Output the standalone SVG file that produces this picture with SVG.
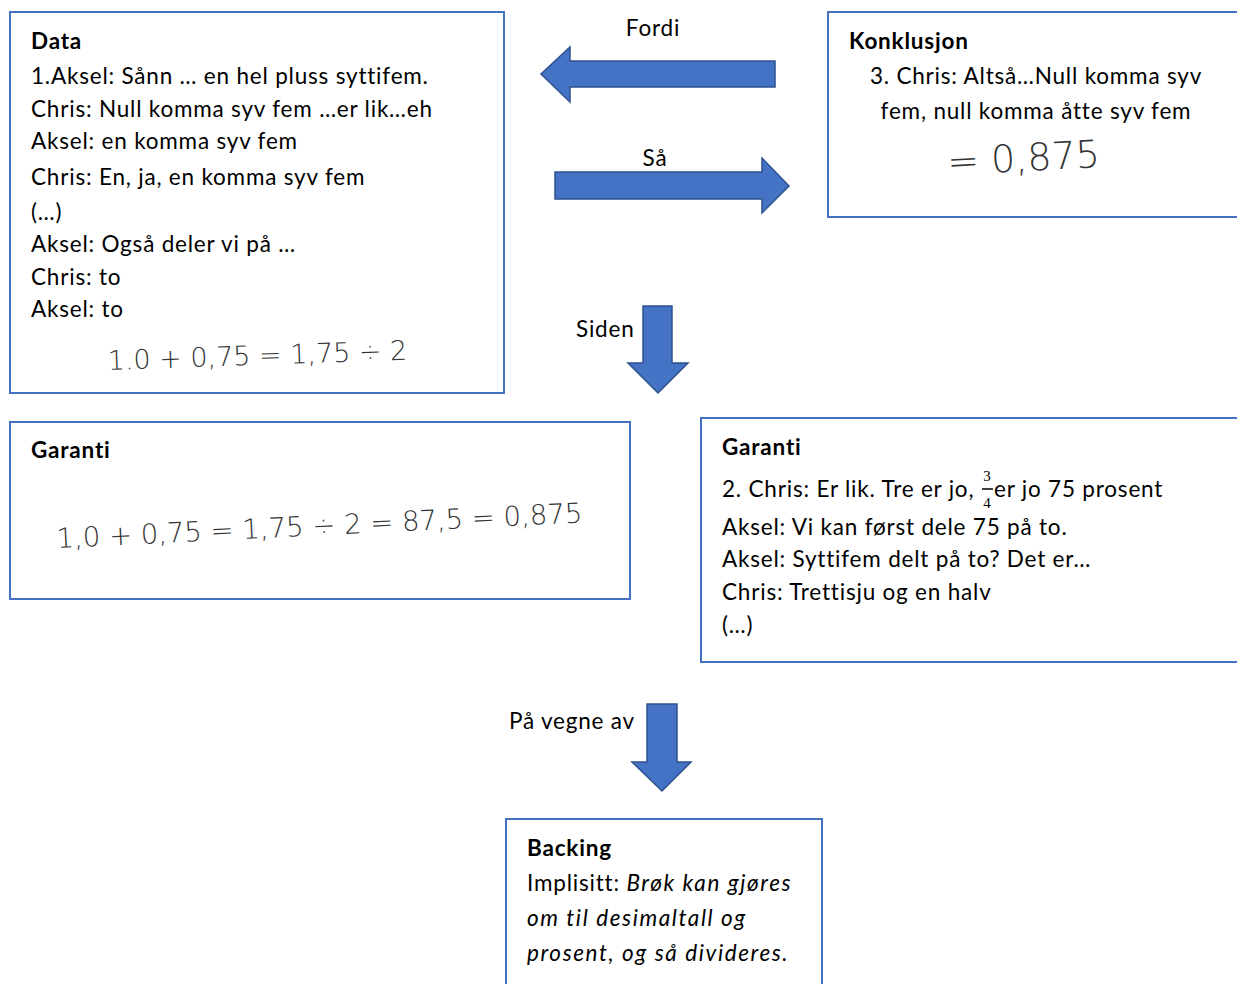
<svg xmlns="http://www.w3.org/2000/svg" width="1237" height="984" viewBox="0 0 1237 984">
  <style>
    .box { fill: #ffffff; stroke: #4472C4; stroke-width: 2; }
    .arrow { fill: #4472C4; stroke: #2F528F; stroke-width: 1.5; stroke-linejoin: miter; }
    .t { font-family: Lato, "Liberation Sans", sans-serif; font-size: 22.5px; letter-spacing: 0.8px; fill: #000; }
    .b { font-weight: bold; }
    .i { font-style: italic; letter-spacing: 1.6px; }
    .hw { font-family: "DejaVu Sans", "Liberation Sans", sans-serif; font-weight: 200; fill: #333; }
    .frac { font-family: "Liberation Serif", serif; font-size: 15px; fill: #000; }
  </style>
  <rect width="1237" height="984" fill="#ffffff"/>

  <!-- connectors: block arrows with their labels -->
  <g id="connectors">
    <g id="fordi">
      <polygon class="arrow" points="775,61 570,61 570,47 541,74 570,102 570,87 775,87"/>
      <text class="t" x="653" y="36" text-anchor="middle">Fordi</text>
    </g>
    <g id="saa">
      <polygon class="arrow" points="555,172 762,172 762,158 789,186 762,213 762,199 555,199"/>
      <text class="t" x="655" y="166" text-anchor="middle">Så</text>
    </g>
    <g id="siden">
      <polygon class="arrow" points="643,306 672,306 672,363 688,363 658,393 628,363 643,363"/>
      <text class="t" x="576" y="337">Siden</text>
    </g>
    <g id="paa-vegne-av">
      <polygon class="arrow" points="647,704 677,704 677,762 691,762 662,791 632,762 647,762"/>
      <text class="t" x="509" y="729">På vegne av</text>
    </g>
  </g>

  <!-- Data -->
  <g id="data">
    <rect class="box" x="10" y="12" width="494" height="381"/>
    <text class="t b" x="31" y="49">Data</text>
    <text class="t" x="31" y="84">1.Aksel: Sånn … en hel pluss syttifem.</text>
    <text class="t" x="31" y="117">Chris: Null komma syv fem …er lik…eh</text>
    <text class="t" x="31" y="149">Aksel: en komma syv fem</text>
    <text class="t" x="31" y="185">Chris: En, ja, en komma syv fem</text>
    <text class="t" x="31" y="220">(…)</text>
    <text class="t" x="31" y="252">Aksel: Også deler vi på …</text>
    <text class="t" x="31" y="285">Chris: to</text>
    <text class="t" x="31" y="317">Aksel: to</text>
    <text class="hw" x="108" y="370" font-size="27" transform="rotate(-2 108 370)">1.0 + 0,75 = 1,75  ÷ 2</text>
  </g>

  <!-- Konklusjon -->
  <g id="konklusjon">
    <rect class="box" x="828" y="12" width="420" height="205"/>
    <text class="t b" x="849" y="49">Konklusjon</text>
    <text class="t" x="1036" y="84" text-anchor="middle">3. Chris: Altså…Null komma syv</text>
    <text class="t" x="1036" y="119" text-anchor="middle">fem, null komma åtte syv fem</text>
    <text class="hw" x="948" y="175" font-size="38" transform="rotate(-3 948 175)">= 0,875</text>
  </g>

  <!-- Garanti (left) -->
  <g id="garanti-venstre">
    <rect class="box" x="10" y="422" width="620" height="177"/>
    <text class="t b" x="31" y="458">Garanti</text>
    <text class="hw" x="57" y="548" font-size="27.5" transform="rotate(-2.8 57 548)">1,0 + 0,75 = 1,75  ÷ 2  = 87,5 = 0,875</text>
  </g>

  <!-- Garanti (right) -->
  <g id="garanti-hoyre">
    <rect class="box" x="701" y="418" width="547" height="244"/>
    <text class="t b" x="722" y="455">Garanti</text>
    <text class="t" x="722" y="497">2. Chris: Er lik. Tre er jo,</text>
    <text class="frac" x="987" y="481" text-anchor="middle">3</text>
    <line x1="982" y1="489" x2="993" y2="489" stroke="#000" stroke-width="1.5"/>
    <text class="frac" x="987" y="508" text-anchor="middle">4</text>
    <text class="t" x="994" y="497">er jo 75 prosent</text>
    <text class="t" x="722" y="535">Aksel: Vi kan først dele 75 på to.</text>
    <text class="t" x="722" y="567">Aksel: Syttifem delt på to? Det er…</text>
    <text class="t" x="722" y="600">Chris: Trettisju og en halv</text>
    <text class="t" x="722" y="633">(…)</text>
  </g>

  <!-- Backing -->
  <g id="backing">
    <rect class="box" x="506" y="819" width="316" height="180"/>
    <text class="t b" x="527" y="856">Backing</text>
    <text class="t" x="527" y="891">Implisitt: <tspan class="i">Brøk kan gjøres</tspan></text>
    <text class="t i" x="527" y="926">om til desimaltall og</text>
    <text class="t i" x="527" y="961">prosent, og så divideres.</text>
  </g>
</svg>
